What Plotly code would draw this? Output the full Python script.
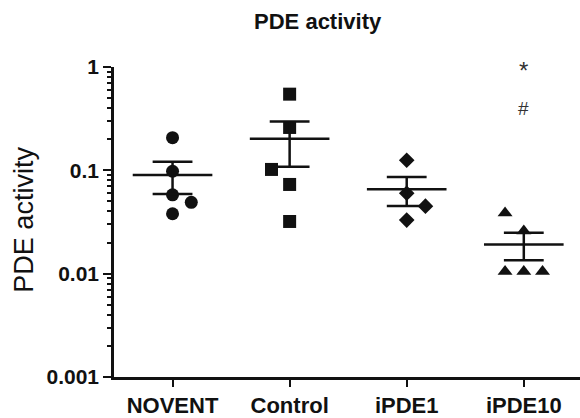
import numpy as np
import plotly.graph_objects as go

# ---- data ----
categories = ["NOVENT", "Control", "iPDE1", "iPDE10"]
novent = [0.207, 0.098, 0.058, 0.049, 0.038]
control = [0.546, 0.26, 0.102, 0.073, 0.032]
ipde1 = [0.125, 0.06, 0.045, 0.033]
ipde10 = [0.0386, 0.0259, 0.0105, 0.0105, 0.0105]
y_tick_vals = [0.001, 0.01, 0.1, 1]
y_tick_text = ["0.001", "0.01", "0.1", "1"]
title_text = "PDE activity"
y_title = "PDE activity"
sig_marks = ["*", "#"]

# ---- scatter layout (horizontal spread of overlapping points, styles) ----
groups = [novent, control, ipde1, ipde10]
spread = [[0, 0, 0, 0.16, 0], [0, 0, -0.155, 0, 0], [0, 0, 0.16, 0], [-0.16, 0, -0.16, 0, 0.16]]
symbols = ["circle", "square", "diamond", "triangle-up"]
sizes = [13, 13, 12, 13]

FONT = "Liberation Sans, Arial, sans-serif"
INK = "#111111"

fig = go.Figure()

mean_x, mean_y, err_x, err_y = [], [], [], []
for i, vals in enumerate(groups):
    v = np.array(vals, dtype=float)
    m = v.mean()
    sem = v.std(ddof=1) / np.sqrt(len(v))
    fig.add_trace(go.Scatter(
        x=[i + d for d in spread[i]], y=vals, mode="markers",
        marker=dict(symbol=symbols[i], size=sizes[i], color=INK, line=dict(width=0)),
        showlegend=False, cliponaxis=False))
    mean_x += [i - 0.34, i + 0.34, None]
    mean_y += [m, m, None]
    err_x += [i - 0.17, i + 0.17, None, i, i, None, i - 0.17, i + 0.17, None]
    err_y += [m + sem, m + sem, None, m - sem, m + sem, None, m - sem, m - sem, None]

fig.add_trace(go.Scatter(x=mean_x, y=mean_y, mode="lines",
                         line=dict(color=INK, width=2.5), showlegend=False, cliponaxis=False))
fig.add_trace(go.Scatter(x=err_x, y=err_y, mode="lines",
                         line=dict(color=INK, width=2.5), showlegend=False, cliponaxis=False))

fig.update_layout(
    width=580, height=418,
    margin=dict(l=114, r=0, t=67, b=38),
    paper_bgcolor="white", plot_bgcolor="white",
    font=dict(family=FONT, color=INK),
    title=dict(text="<b>" + title_text + "</b>", x=0.437, xref="paper", xanchor="center",
               y=1 - 21 / 418, yanchor="middle", yref="container",
               font=dict(size=22, family=FONT, color=INK)),
    xaxis=dict(range=[-0.5, 3.48], tickvals=list(range(len(categories))),
               ticktext=["<b>" + c + "</b>" for c in categories],
               showline=True, linecolor=INK, linewidth=2.5, mirror=False,
               ticks="outside", ticklen=7, tickwidth=2, tickcolor=INK,
               showgrid=False, zeroline=False,
               tickfont=dict(size=22, family=FONT, color=INK)),
    yaxis=dict(type="log", range=[-3, 0], tickvals=y_tick_vals,
               ticktext=["<b>" + t + "</b>" for t in y_tick_text],
               showline=True, linecolor=INK, linewidth=2.5,
               ticks="outside", ticklen=8, tickwidth=2, tickcolor=INK,
               minor=dict(ticks="outside", ticklen=4, tickwidth=1.5, tickcolor=INK,
                          dtick="D1", showgrid=False),
               showgrid=False, zeroline=False,
               tickfont=dict(size=21, family=FONT, color=INK)),
    annotations=[
        dict(text=y_title, x=-0.195, y=0.508, xref="paper", yref="paper",
             textangle=-90, showarrow=False, xanchor="center", yanchor="middle",
             font=dict(size=27, family=FONT, color=INK)),
        dict(text=sig_marks[0], x=3, y=np.log10(0.92), xref="x", yref="y",
             showarrow=False, xanchor="center", yanchor="middle",
             font=dict(size=24, family=FONT, color="#333333")),
        dict(text=sig_marks[1], x=3, y=np.log10(0.40), xref="x", yref="y",
             showarrow=False, xanchor="center", yanchor="middle",
             font=dict(size=19, family=FONT, color="#333333")),
    ],
)

fig.write_html("out.html", config={"displayModeBar": False},
               post_script="document.body.style.margin='0px';")
